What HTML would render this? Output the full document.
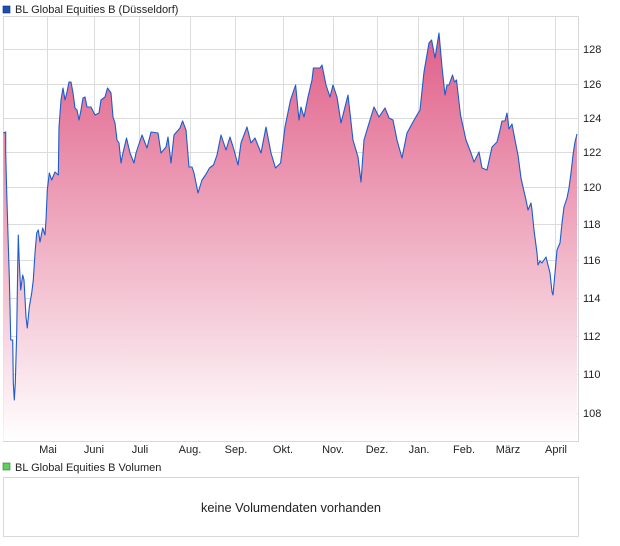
<!DOCTYPE html>
<html><head><meta charset="utf-8"><style>
html,body{margin:0;padding:0;background:#fff;}
svg{display:block;font-family:"Liberation Sans",Arial,sans-serif;}
</style></head><body>
<svg width="620" height="546" viewBox="0 0 620 546" xmlns="http://www.w3.org/2000/svg">
<defs>
<linearGradient id="g" gradientUnits="userSpaceOnUse" x1="0" y1="35" x2="0" y2="441">
<stop offset="0" stop-color="#e0608a"/>
<stop offset="0.45" stop-color="#eea6bd"/>
<stop offset="1" stop-color="#ffffff"/>
</linearGradient>
</defs>
<rect x="3" y="6" width="7" height="7" fill="#1f4fb0" stroke="#0a2a70" stroke-width="0.6"/>
<text x="15" y="13" font-size="11" fill="#222">BL Global Equities B (Düsseldorf)</text>
<g stroke="#dcdcdc" stroke-width="1">
<line x1="3" y1="49.5" x2="578" y2="49.5"/><line x1="3" y1="84.5" x2="578" y2="84.5"/><line x1="3" y1="118.5" x2="578" y2="118.5"/><line x1="3" y1="152.5" x2="578" y2="152.5"/><line x1="3" y1="187.5" x2="578" y2="187.5"/><line x1="3" y1="224.5" x2="578" y2="224.5"/><line x1="3" y1="260.5" x2="578" y2="260.5"/><line x1="3" y1="298.5" x2="578" y2="298.5"/><line x1="3" y1="336.5" x2="578" y2="336.5"/><line x1="3" y1="374.5" x2="578" y2="374.5"/><line x1="3" y1="413.5" x2="578" y2="413.5"/>
<line x1="47.5" y1="16" x2="47.5" y2="441"/><line x1="94.5" y1="16" x2="94.5" y2="441"/><line x1="139.5" y1="16" x2="139.5" y2="441"/><line x1="190.5" y1="16" x2="190.5" y2="441"/><line x1="235.5" y1="16" x2="235.5" y2="441"/><line x1="283.5" y1="16" x2="283.5" y2="441"/><line x1="333.5" y1="16" x2="333.5" y2="441"/><line x1="377.5" y1="16" x2="377.5" y2="441"/><line x1="418.5" y1="16" x2="418.5" y2="441"/><line x1="463.5" y1="16" x2="463.5" y2="441"/><line x1="508.5" y1="16" x2="508.5" y2="441"/><line x1="555.5" y1="16" x2="555.5" y2="441"/>
</g>
<rect x="3.5" y="16.5" width="575" height="425" fill="none" stroke="#d8d8d8"/>
<polygon fill="url(#g)" points="3.3,441 3.3,133 5.7,132 5.7,152 6.7,192 8,235 9.3,277 10.3,320 10.7,340 12.7,340 13.3,383 14.3,400 15.3,383 16.7,333 17.7,267 18.3,235 19.3,263 20.7,290 22.7,275 24,280 26,317 27.3,328 29.3,307 31.7,293 33.3,280 35,253 36.7,233 38.3,230 40,242 42.7,228 45,235 46,220 47.3,190 49.3,173 51.7,180 55,172 58.3,175 59,127 61,100 63,88 65,100 67,92 69,82 71,82 73,93 75,108 77,110 79,120 81,110 83,98 85,97 87,107 91,107 95,115 99,113 101,100 105,97 107.5,88 111,93 113,117 115,123 117,140 119,143 121,163 122.5,155 126.5,138 130,153 134,163 136,153 142,135 147,148 151,132 158,133 161,153 166,147 168,137 171,163 174,135 180,128 182.6,121 186,130 189,167 192,167 194,173 198,193 202,180 205.5,175 209.5,168 213.5,165 217,155 221,135 226,150 230,137 234,150 238,165 241,143 247,127 251,143 255,138 261,153 266,127 271,153 275.5,168 280.6,163 285,127 290.5,100 295.6,85 299,120 301,107 304,117 308,97 312,80 313.4,68 320,68 322,65 326,85 330,97 333,85 337,97 341,123 348,95 353,140 358,157 361,182 364,140 370,120 374,107 379,117 385,108 389,118 393,120 397,140 402,158 407,133 413,122 417,115 420,110 424,72 429,43 431.6,40 435,58 439,33 442,67 445,95 447,85 449,85 452.5,75 454.5,82 456.5,80 460.5,115 466,140 471,153 474,162 479,152 482,168 487,170 492,147 497,142 500,130 502,121 505,121 507,113 509,129 512,124 515,140 518,155 521,178 523,187 526,200 528,210 531,203 532,210 534,230 537,253 538,265 540,261 542,263 546,257 548,265 550,273 552,292 553,295 555,273 557,250 560,243 562,223 564,207 567,198 569,188 571,173 573,155 575,142 577,134 577,441"/>
<polyline fill="none" stroke="#1c5ccc" stroke-width="1.1" stroke-linejoin="round" points="3.3,133 5.7,132 5.7,152 6.7,192 8,235 9.3,277 10.3,320 10.7,340 12.7,340 13.3,383 14.3,400 15.3,383 16.7,333 17.7,267 18.3,235 19.3,263 20.7,290 22.7,275 24,280 26,317 27.3,328 29.3,307 31.7,293 33.3,280 35,253 36.7,233 38.3,230 40,242 42.7,228 45,235 46,220 47.3,190 49.3,173 51.7,180 55,172 58.3,175 59,127 61,100 63,88 65,100 67,92 69,82 71,82 73,93 75,108 77,110 79,120 81,110 83,98 85,97 87,107 91,107 95,115 99,113 101,100 105,97 107.5,88 111,93 113,117 115,123 117,140 119,143 121,163 122.5,155 126.5,138 130,153 134,163 136,153 142,135 147,148 151,132 158,133 161,153 166,147 168,137 171,163 174,135 180,128 182.6,121 186,130 189,167 192,167 194,173 198,193 202,180 205.5,175 209.5,168 213.5,165 217,155 221,135 226,150 230,137 234,150 238,165 241,143 247,127 251,143 255,138 261,153 266,127 271,153 275.5,168 280.6,163 285,127 290.5,100 295.6,85 299,120 301,107 304,117 308,97 312,80 313.4,68 320,68 322,65 326,85 330,97 333,85 337,97 341,123 348,95 353,140 358,157 361,182 364,140 370,120 374,107 379,117 385,108 389,118 393,120 397,140 402,158 407,133 413,122 417,115 420,110 424,72 429,43 431.6,40 435,58 439,33 442,67 445,95 447,85 449,85 452.5,75 454.5,82 456.5,80 460.5,115 466,140 471,153 474,162 479,152 482,168 487,170 492,147 497,142 500,130 502,121 505,121 507,113 509,129 512,124 515,140 518,155 521,178 523,187 526,200 528,210 531,203 532,210 534,230 537,253 538,265 540,261 542,263 546,257 548,265 550,273 552,292 553,295 555,273 557,250 560,243 562,223 564,207 567,198 569,188 571,173 573,155 575,142 577,134"/>
<g font-size="11" fill="#222">
<text x="583" y="53">128</text><text x="583" y="88">126</text><text x="583" y="122">124</text><text x="583" y="156">122</text><text x="583" y="191">120</text><text x="583" y="228">118</text><text x="583" y="264">116</text><text x="583" y="302">114</text><text x="583" y="340">112</text><text x="583" y="378">110</text><text x="583" y="417">108</text>
</g>
<g font-size="11" fill="#222" text-anchor="middle">
<text x="48" y="453">Mai</text><text x="94" y="453">Juni</text><text x="140" y="453">Juli</text><text x="190" y="453">Aug.</text><text x="236" y="453">Sep.</text><text x="283" y="453">Okt.</text><text x="333" y="453">Nov.</text><text x="377" y="453">Dez.</text><text x="419" y="453">Jan.</text><text x="464" y="453">Feb.</text><text x="508" y="453">März</text><text x="556" y="453">April</text>
</g>
<rect x="3" y="463" width="7" height="7" fill="#5fcf5f" stroke="#2a7a2a" stroke-width="0.6"/>
<text x="15" y="471" font-size="11" fill="#222">BL Global Equities B Volumen</text>
<rect x="3.5" y="477.5" width="575" height="59" fill="none" stroke="#d8d8d8"/>
<text x="291" y="512" font-size="12.8" fill="#222" text-anchor="middle">keine Volumendaten vorhanden</text>
</svg>
</body></html>
